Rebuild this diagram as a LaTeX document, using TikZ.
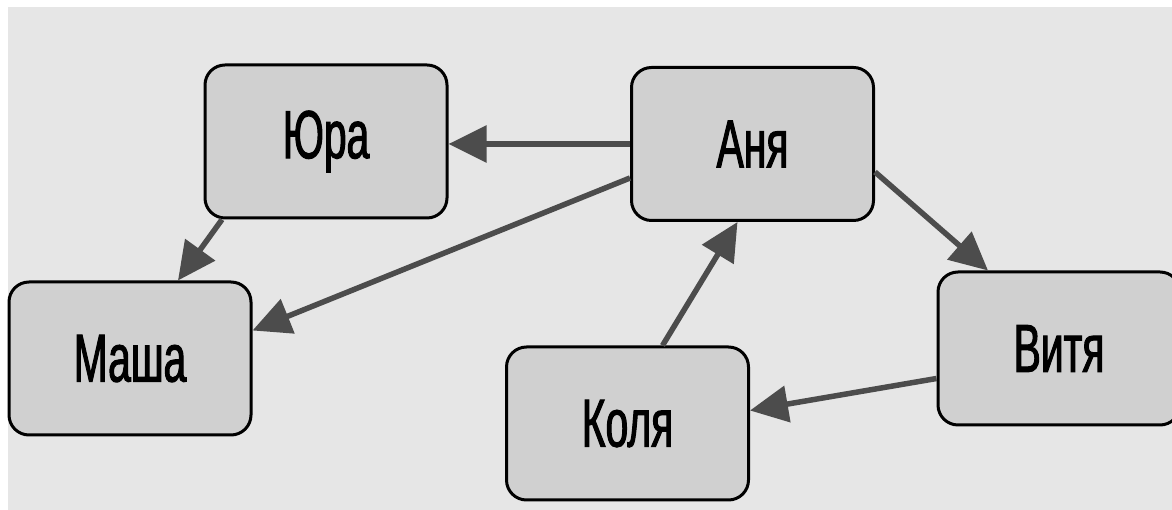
\documentclass[tikz,border=0pt]{standalone}
\usepackage{fontspec}
\setmainfont{Liberation Sans}[FakeStretch=0.6, FakeBold=1.5]
\usetikzlibrary{arrows.meta}
\definecolor{bg}{HTML}{E6E6E6}
\definecolor{boxfill}{HTML}{D0D0D0}
\definecolor{arr}{HTML}{4C4C4C}
\tikzset{
  person/.style={draw=black, line width=3pt, fill=boxfill, rounded corners=20pt,
    minimum width=242pt, minimum height=153pt, inner sep=0pt,
    font=\fontsize{68pt}{80pt}\selectfont},
  link/.style={draw=arr, line width=5.5pt, -{Triangle[length=38pt, width=36pt]}}
}
\begin{document}
\begin{tikzpicture}[x=1pt, y=1pt]
\useasboundingbox (0,0) rectangle (1172,510);
\clip (0,0) rectangle (1172,510);
\fill[bg] (8,0) rectangle (1172,503);
\node[person] (yura)  at (326,368.5) {Юра};
\node[person] (anya)  at (752.5,366) {Аня};
\node[person] (vitya) at (1059,161.5) {Витя};
\node[person] (masha) at (130,151.5) {Маша};
\node[person] (kolya) at (627.5,86.5) {Коля};
\draw[link] (anya.west) -- (anya.west -| yura.east);
\draw[link] ([yshift=-34pt]anya.west) -- ([yshift=28pt]masha.east);
\draw[link] ([yshift=-28pt]anya.east) -- ([xshift=-71pt]vitya.north);
\draw[link] ([xshift=-104pt]yura.south) -- ([xshift=48pt]masha.north);
\draw[link] ([xshift=35pt]kolya.north) -- ([xshift=-15pt]anya.south);
\draw[link] ([yshift=-30pt]vitya.west) -- ([yshift=13pt]kolya.east);
\end{tikzpicture}
\end{document}
